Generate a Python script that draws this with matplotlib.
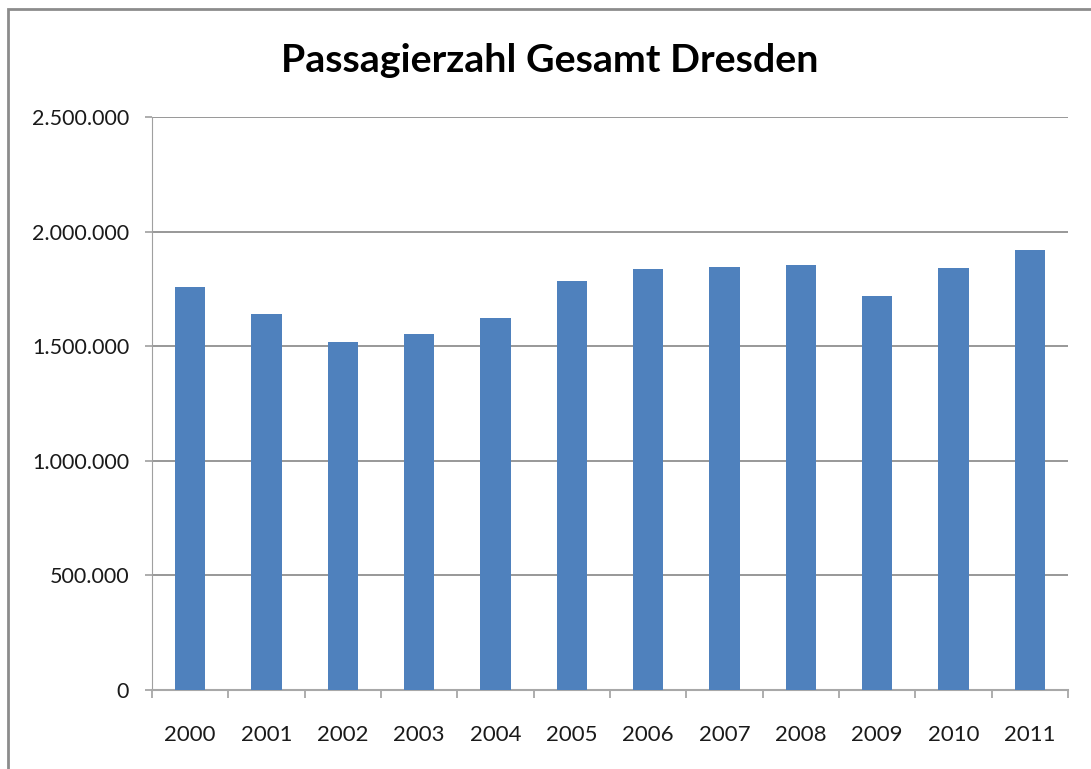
import matplotlib.pyplot as plt
from matplotlib.patches import Rectangle
from matplotlib.ticker import FuncFormatter

years = ['2000', '2001', '2002', '2003', '2004', '2005',
         '2006', '2007', '2008', '2009', '2010', '2011']
passengers = [1757000, 1642000, 1520000, 1553000, 1621000, 1785000,
              1838000, 1847000, 1856000, 1719000, 1843000, 1920000]

plt.rcParams['font.family'] = ['Lato', 'DejaVu Sans']

fig = plt.figure(figsize=(10.91, 7.69), dpi=100)
ax = fig.add_axes([152 / 1091, 1 - 690 / 769, (1068 - 152) / 1091, (690 - 117) / 769])

# chart border (cut off at right and bottom like the screenshot)
fig.patches.append(Rectangle((8 / 1091, -0.1), 1.2, 1.1 - 9 / 769, transform=fig.transFigure,
                             fill=False, edgecolor='#8c8c8c', linewidth=2))

x = range(len(years))
ax.bar(x, passengers, width=0.4, color='#4f81bd', zorder=3)

ax.set_xlim(-0.5, len(years) - 0.5)
ax.set_ylim(0, 2500000)
ax.set_yticks(range(0, 2500001, 500000))
ax.yaxis.set_major_formatter(FuncFormatter(lambda v, p: f'{int(v):,}'.replace(',', '.')))
ax.grid(axis='y', color='#868686', linewidth=1.2, zorder=0)

ax.set_xticks(list(x))
ax.set_xticklabels(years)
ax.set_xticks([i - 0.5 for i in range(len(years) + 1)], minor=True)
ax.tick_params(axis='x', which='major', length=0, pad=25, labelsize=16, labelcolor='#1a1a1a')
ax.tick_params(axis='x', which='minor', length=6, color='#a0a0a0', width=1.2)
ax.tick_params(axis='y', length=5, color='#a0a0a0', width=1.2, labelsize=15.5,
               labelcolor='#1a1a1a', pad=11.5)

for s in ['top', 'right']:
    ax.spines[s].set_visible(False)
ax.spines['left'].set_color('#a0a0a0')
ax.spines['bottom'].set_color('#a8a8a8')
ax.spines['bottom'].set_linewidth(1.5)

fig.text(550 / 1091, 1 - 60 / 769, 'Passagierzahl Gesamt Dresden', ha='center', va='center',
         fontsize=28.4, fontweight='bold', color='black')

fig.savefig('out.png', dpi=100)
